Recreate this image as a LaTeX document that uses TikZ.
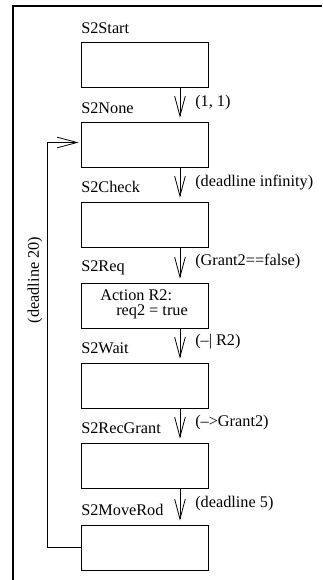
\documentclass[tikz,border=0pt]{standalone}
\usepackage{fontspec}
\setmainfont{Liberation Serif}
\usetikzlibrary{arrows.meta}
\begin{document}
\begin{tikzpicture}[x=0.75pt,y=-0.75pt,
  every node/.style={font=\fontsize{12.2}{14}\selectfont},
  statebox/.style={draw, line width=0.6pt, minimum width=95.25pt, minimum height=33.75pt, inner sep=0pt},
  lbl/.style={anchor=west, inner sep=0pt},
  arr/.style={line width=0.6pt, -{Straight Barb[length=15pt,width=8pt,line width=0.6pt]}},
  frame/.style={line width=1.3pt}]
\useasboundingbox (0,0) rectangle (322,580);
\draw[frame] (13,580) -- (13,6) -- (322,6);

\node[statebox] (b1) at (144.5,64.5) {};
\node[statebox] (b2) at (144.5,144.5) {};
\node[statebox] (b3) at (144.5,224.5) {};
\node[statebox] (b4) at (144.5,305.5) {};
\node[statebox] (b5) at (144.5,385.5) {};
\node[statebox] (b6) at (144.5,465.5) {};
\node[statebox] (b7) at (144.5,547.5) {};

\node[lbl] (s1) at (81,28) {S2Start};
\node[lbl] (s2) at (81,108) {S2None};
\node[lbl] (s3) at (81,187) {S2Check};
\node[lbl] (s4) at (81,268) {S2Req};
\node[lbl] (s5) at (81,348) {S2Wait};
\node[lbl] (s6) at (81,428) {S2RecGrant};
\node[lbl] (s7) at (81,510) {S2MoveRod};

\node[lbl] (a1) at (100,295) {Action R2:};
\node[lbl] (a2) at (116,312) {req2 = true};

\foreach \i/\j in {b1/b2,b2/b3,b3/b4,b4/b5,b5/b6,b6/b7}
  \draw[arr, shorten >=3pt] ([xshift=26.6pt]\i.south) -- ([xshift=26.6pt]\j.north);

\node[lbl] (e1) at (195,103) {(1, 1)};
\node[lbl] (e2) at (195,182.5) {(deadline infinity)};
\node[lbl] (e3) at (195,262) {(Grant2==false)};
\node[lbl] (e4) at (195,342) {(–| R2)};
\node[lbl] (e5) at (195,423) {(–>Grant2)};
\node[lbl] (e6) at (195,504) {(deadline 5)};

\draw[arr, shorten >=1.5pt] (b7.west) -- ++(-33,0) |- ([yshift=1.5pt]b2.west);
\node[rotate=90, inner sep=0pt] (loop) at (35,280) {(deadline 20)};
\end{tikzpicture}
\end{document}
